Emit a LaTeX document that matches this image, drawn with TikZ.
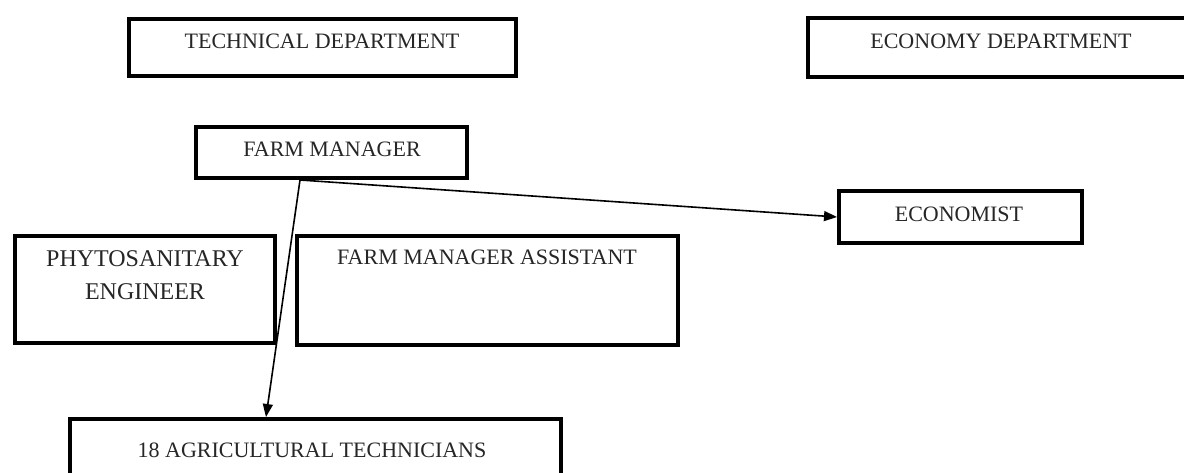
\documentclass[tikz,border=0pt]{standalone}
\usepackage{fontspec}
\setmainfont{Liberation Serif}
\usetikzlibrary{arrows.meta}
\begin{document}
\begin{tikzpicture}[x=1pt,y=-1pt,
  box/.style={draw=black, line width=4pt, rectangle, inner sep=0pt},
  lbl/.style={font=\fontsize{22}{26}\selectfont, text=black!85, inner sep=0pt, anchor=base},
  conn/.style={line width=1.6pt, -{Triangle[length=13pt,width=10pt]}}
]
\clip (0,0) rectangle (1184,473);
\fill[white] (0,0) rectangle (1184,473);
% boxes
\node[box, minimum width=387pt, minimum height=57pt] (tech) at (322.5,47.5) {};
\node[box, minimum width=388pt, minimum height=59pt] (econ) at (1002,47.5) {};
\node[box, minimum width=271pt, minimum height=51pt] (farm) at (331.5,152.5) {};
\node[box, minimum width=243pt, minimum height=52pt] (economist) at (960.5,217) {};
\node[box, minimum width=260pt, minimum height=107pt] (phyto) at (145,289.5) {};
\node[box, minimum width=381pt, minimum height=109pt] (assist) at (487.5,290.5) {};
\node[box, minimum width=491pt, minimum height=81pt] (techn) at (315.5,459.5) {};
% labels
\node[lbl] (techT) at (322,48.5) {TECHNICAL DEPARTMENT};
\node[lbl] (econT) at (1001,49) {ECONOMY DEPARTMENT};
\node[lbl] (farmT) at (332,157) {FARM MANAGER};
\node[lbl] (economistT) at (959,222) {ECONOMIST};
\node[lbl, font=\fontsize{24}{33}\selectfont, align=center] (phytoT) at (145,300) {PHYTOSANITARY\\ENGINEER};
\node[lbl] (assistT) at (487,265) {FARM MANAGER ASSISTANT};
\node[lbl] (technT) at (312,457) {18 AGRICULTURAL TECHNICIANS};
% connectors
\coordinate (fm) at (300,180);
\coordinate (tk) at (266,417);
\draw[conn] (fm) -- (economist.west);
\draw[conn] (fm) -- (tk);
\end{tikzpicture}
\end{document}
